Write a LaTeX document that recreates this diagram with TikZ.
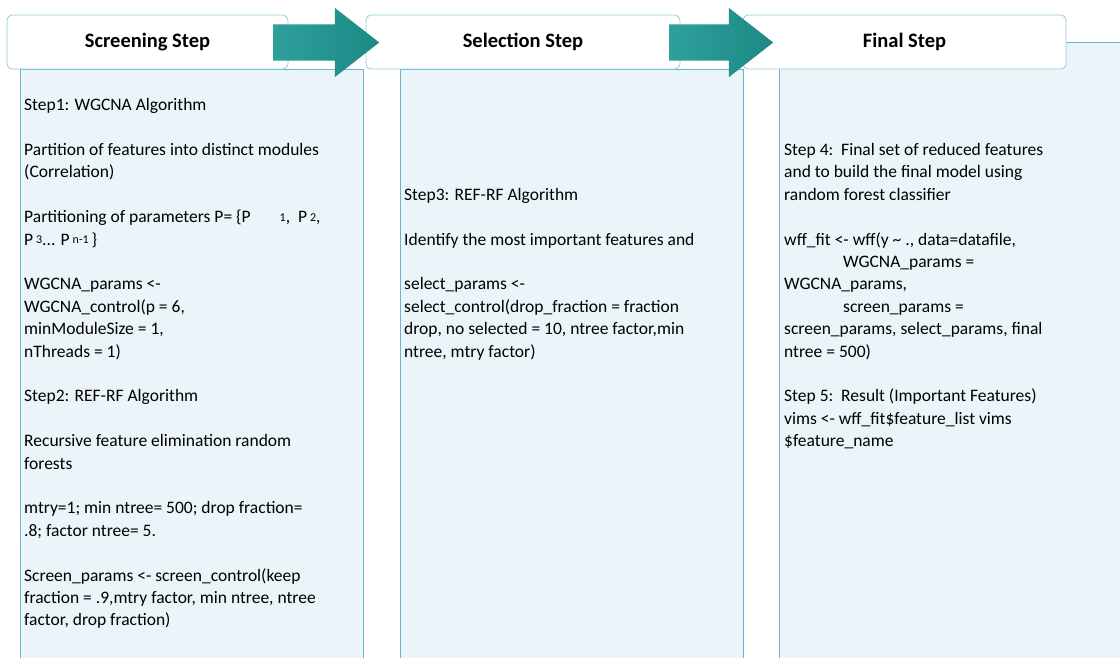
\documentclass[tikz,border=0pt]{standalone}
\usepackage{fontspec}
\setmainfont{Carlito}
\usetikzlibrary{shapes.arrows, positioning}
\definecolor{HeadLine}{HTML}{93CDDD}
\definecolor{BodyLine}{HTML}{6AB4CE}
\definecolor{BodyFill}{HTML}{EBF4F8}
\definecolor{ArrowA}{HTML}{2EA09C}
\definecolor{ArrowB}{HTML}{1D8984}
\newcommand{\psub}[1]{\raisebox{1.5pt}{\fontsize{12}{12}\selectfont #1}}
\tikzset{
  headbox/.style={draw=HeadLine, thick, rounded corners=5pt, fill=white,
    minimum height=54pt, inner sep=0pt, font=\fontsize{20.5}{24}\selectfont\bfseries},
  colbody/.style={draw=BodyLine, line width=1.2pt, fill=BodyFill,
    anchor=north west, inner sep=0pt},
  steptext/.style={anchor=north west, inner sep=0pt, align=left,
    font=\fontsize{17.5}{22.4}\selectfont},
  flowarrow/.style={single arrow, draw=none, left color=ArrowA, right color=ArrowB,
    shading angle=90, inner xsep=0pt, inner ysep=18pt, anchor=tail,
    single arrow head extend=16.5pt, single arrow tip angle=76},
}

\begin{document}
\begin{tikzpicture}[x=1pt, y=-1pt]
  \useasboundingbox (0,0) rectangle (1120,657);
  % column bodies
  \node[colbody, minimum width=343pt, minimum height=600pt] (body1) at (20,69) {};
  \node[colbody, minimum width=343pt, minimum height=600pt] (body2) at (400,69) {};
  \node[colbody, minimum width=360pt, minimum height=630pt] (body3) at (779,42) {};
  % step headers
  \node[headbox, minimum width=281pt] (head1) at (147.5,42) {Screening Step};
  \node[headbox, minimum width=314pt] (head2) at (523,42) {Selection Step};
  \node[headbox, minimum width=323pt] (head3) at (904.5,42) {Final Step};
  \node[flowarrow, minimum height=106pt] (arr1) at (273,42.5) {};
  \node[flowarrow, minimum height=104pt] (arr2) at (669,42.5) {};
  % column texts
  \node[steptext] (txt1) at (24,94.8) {\strut Step1: WGCNA Algorithm\\[22.4pt]
    Partition of features into distinct modules\\
    (Correlation)\\[22.4pt]
    Partitioning of parameters P= \{P\hspace{29pt}\psub{1},\ \ P\,\psub{2},\\
    P\,\psub{3}... P\,\psub{n-1}\,\}\\[22.4pt]
    WGCNA\_params <-\\
    WGCNA\_control(p = 6,\\
    minModuleSize = 1,\\
    nThreads = 1)\\[22.4pt]
    Step2: REF-RF Algorithm\\[22.4pt]
    Recursive feature elimination random\\
    forests\\[22.4pt]
    mtry=1; min ntree= 500; drop fraction=\\
    .8; factor ntree= 5.\\[22.4pt]
    Screen\_params <- screen\_control(keep\\
    fraction = .9,mtry factor, min ntree, ntree\\
    factor, drop fraction)};
  \node[steptext] (txt2) at (404,184.4) {\strut Step3: REF-RF Algorithm\\[22.4pt]
    Identify the most important features and\\[22.4pt]
    select\_params <-\\
    select\_control(drop\_fraction = fraction\\
    drop, no selected = 10, ntree factor,min\\
    ntree, mtry factor)};
  \node[steptext] (txt3) at (784,139.6) {\strut Step 4:\ \ Final set of reduced features\\
    and to build the final model using\\
    random forest classifier\\[22.4pt]
    wff\_fit <- wff(y \textasciitilde\ ., data=datafile,\\
    \hspace*{59pt}WGCNA\_params =\\
    WGCNA\_params,\\
    \hspace*{59pt}screen\_params =\\
    screen\_params, select\_params, final\\
    ntree = 500)\\[22.4pt]
    Step 5:\ \ Result (Important Features)\\
    vims <- wff\_fit\$feature\_list vims\\
    \$feature\_name};
\end{tikzpicture}
\end{document}
